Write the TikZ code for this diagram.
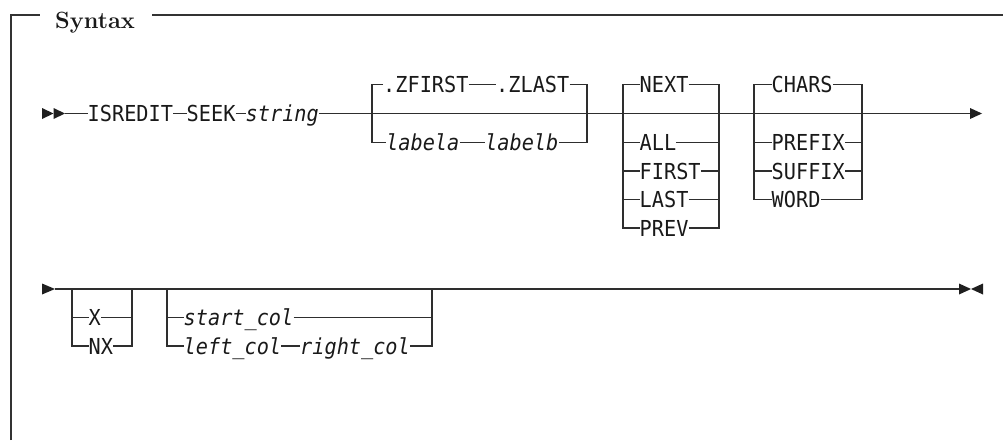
\documentclass[tikz,border=0pt]{standalone}
\usepackage{fontspec}
\newfontfamily\synfont[FakeStretch=0.92]{DejaVu Sans Mono}
\begin{document}
\begin{tikzpicture}[x=1pt,y=-1pt,
  line/.style={draw=black!82,line width=1.1pt},
  frame/.style={draw=black!80,line width=1.3pt},
  kw/.style={anchor=west,inner sep=0pt,text height=16pt,text depth=0pt,
    font=\synfont\fontsize{22}{22}\selectfont,text=black!90},
  var/.style={kw,font=\synfont\itshape\fontsize{22}{22}\selectfont},
  tip/.style={fill=black!88,draw=none}]
\useasboundingbox (0,0) rectangle (1003,440);
% frame
\node[anchor=base west,inner sep=0pt,font=\bfseries\fontsize{23.5}{23.5}\selectfont,text=black!90] (title) at (55,28) {Syntax};
\coordinate (fbl) at (11,440);
\coordinate (ftl) at (11,15);
\coordinate (ftg) at (40,15);
\coordinate (ftr0) at (152,15);
\coordinate (ftr) at (1003,15);
\draw[frame] (fbl) -- (ftl) -- (ftg);
\draw[frame] (ftr0) -- (ftr);
% ---------- line 1 ----------
\def\ya{84.5}\def\yb{113.5}\def\yc{142.5}\def\yd{171}\def\ye{199.5}\def\yf{228}
\fill[tip] (42,\yb-5.5) -- (53.5,\yb) -- (42,\yb+5.5) -- cycle;
\fill[tip] (53.5,\yb-5.5) -- (65,\yb) -- (53.5,\yb+5.5) -- cycle;
\coordinate (s1) at (65,\yb);
\node[kw] (isr) at (87.5,\yb) {ISREDIT};
\node[kw] (seek) at (186.5,\yb) {SEEK};
\node[var] (str) at (245.5,\yb) {string};
\coordinate (e1) at (970,\yb);
\draw[line] (s1) -- (isr.west) (isr.east) -- (seek.west) (seek.east) -- (str.west) (str.east) -- (e1);
\fill[tip] (e1) ++(0,-5.5) -- ++(12,5.5) -- ++(-12,5.5) -- cycle;
% group 1
\coordinate (g1tl) at (372,\ya); \coordinate (g1bl) at (372,\yc);
\coordinate (g1tr) at (587,\ya); \coordinate (g1br) at (587,\yc);
\node[kw] (zf) at (383,\ya) {.ZFIRST};
\node[kw] (zl) at (496,\ya) {.ZLAST};
\node[var] (la) at (386,\yc) {labela};
\node[var] (lb) at (485,\yc) {labelb};
\draw[line] (zf.west) -- (g1tl) -- (g1bl) -- (la.west);
\draw[line] (zf.east) -- (zl.west) (la.east) -- (lb.west);
\draw[line] (zl.east) -- (g1tr) -- (g1br) -- (lb.east);
% group 2
\coordinate (g2tl) at (623,\ya); \coordinate (g2bl) at (623,\yf);
\coordinate (g2tr) at (719,\ya); \coordinate (g2br) at (719,\yf);
\node[kw] (next) at (639.5,\ya) {NEXT};
\node[kw] (all) at (639.5,\yc) {ALL};
\node[kw] (first) at (639.5,\yd) {FIRST};
\node[kw] (last) at (639.5,\ye) {LAST};
\node[kw] (prev) at (639.5,\yf) {PREV};
\draw[line] (next.west) -- (g2tl) -- (g2bl) -- (prev.west);
\draw[line] (next.east) -- (g2tr) -- (g2br) -- (prev.east);
\foreach \n in {all,first,last}{
  \draw[line] (\n.west) -- (\n.west -| g2tl);
  \draw[line] (\n.east) -- (\n.east -| g2tr);}
% group 3
\coordinate (g3tl) at (754,\ya); \coordinate (g3bl) at (754,\ye);
\coordinate (g3tr) at (862,\ya); \coordinate (g3br) at (862,\ye);
\node[kw] (chars) at (771.5,\ya) {CHARS};
\node[kw] (prefix) at (771.5,\yc) {PREFIX};
\node[kw] (suffix) at (771.5,\yd) {SUFFIX};
\node[kw] (word) at (771.5,\ye) {WORD};
\draw[line] (chars.west) -- (g3tl) -- (g3bl) -- (word.west);
\draw[line] (chars.east) -- (g3tr) -- (g3br) -- (word.east);
\foreach \n in {prefix,suffix}{
  \draw[line] (\n.west) -- (\n.west -| g3tl);
  \draw[line] (\n.east) -- (\n.east -| g3tr);}
% ---------- line 2 ----------
\def\ma{289}\def\mb{317.5}\def\mc{346}
\fill[tip] (42,\ma-5.5) -- (55,\ma) -- (42,\ma+5.5) -- cycle;
\coordinate (s2) at (55,\ma);
\coordinate (e2) at (959,\ma);
\draw[line] (s2) -- (e2);
\fill[tip] (959,\ma-5.5) -- (971,\ma) -- (959,\ma+5.5) -- cycle;
\fill[tip] (983,\ma-5.5) -- (971,\ma) -- (983,\ma+5.5) -- cycle;
% X group
\coordinate (h1tl) at (72,\ma); \coordinate (h1bl) at (72,\mc);
\coordinate (h1tr) at (132,\ma); \coordinate (h1br) at (132,\mc);
\node[kw] (x) at (88.5,\mb) {X};
\node[kw] (nx) at (88.5,\mc) {NX};
\draw[line] (h1tl) -- (h1bl) -- (nx.west) (nx.east) -- (h1br) -- (h1tr);
\draw[line] (x.west) -- (x.west -| h1tl) (x.east) -- (x.east -| h1tr);
% col group
\coordinate (h2tl) at (167,\ma); \coordinate (h2bl) at (167,\mc);
\coordinate (h2tr) at (432,\ma); \coordinate (h2br) at (432,\mc);
\node[var] (sc) at (183.5,\mb) {start\_col};
\node[var] (lc) at (183.5,\mc) {left\_col};
\node[var] (rc) at (300,\mc) {right\_col};
\draw[line] (h2tl) -- (h2bl) -- (lc.west) (lc.east) -- (rc.west) (rc.east) -- (h2br) -- (h2tr);
\draw[line] (sc.west) -- (sc.west -| h2tl) (sc.east) -- (sc.east -| h2tr);
\end{tikzpicture}
\end{document}
